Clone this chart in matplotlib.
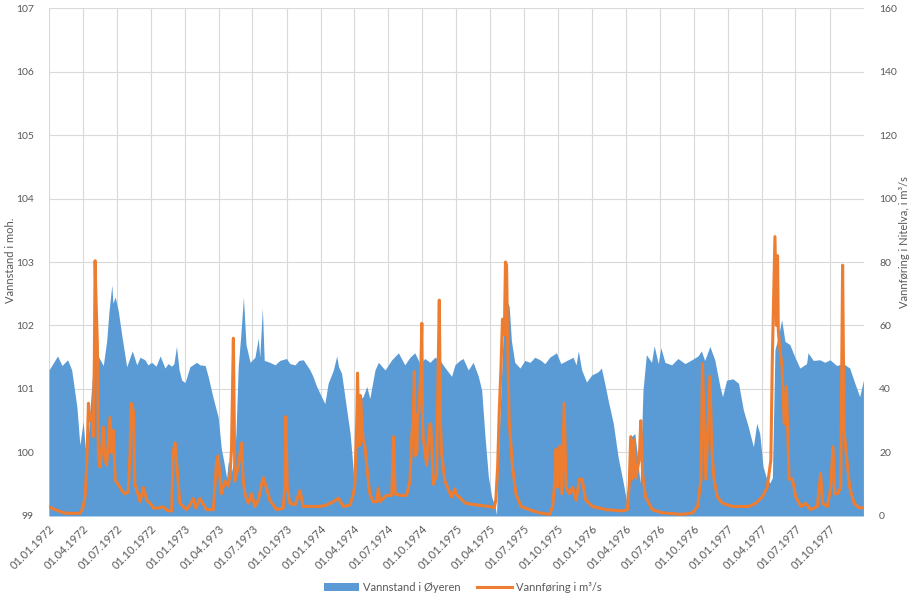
import pandas as pd
import numpy as np
import matplotlib
matplotlib.use("Agg")
import matplotlib.pyplot as plt

plt.rcParams['font.family'] = ['Lato', 'DejaVu Sans']

start = pd.Timestamp('1972-01-01')

# Vannstand i Øyeren (moh.), days counted from 01.01.1972
level_days = [0, 23, 35, 50, 61, 75, 83, 92, 97, 102, 113, 121, 129, 133, 146, 155, 161, 169, 172, 178,
              186, 197, 209, 215, 224, 236, 245, 258, 266, 276, 288, 299, 312, 320, 330, 336, 343, 350,
              357, 366, 379, 397, 406, 420, 428, 442, 455, 464, 469, 478, 482, 491, 498, 503, 509, 516,
              523, 530, 541, 554, 563, 567, 574, 579, 594, 608, 621, 639, 648, 662, 672, 684, 702, 710,
              720, 733, 742, 751, 765, 774, 779, 787, 801, 810, 816, 821, 824, 833, 839, 845, 855, 863,
              877, 886, 904, 922, 940, 957, 971, 984, 998, 1011, 1025, 1038, 1052, 1060, 1070, 1083,
              1092, 1105, 1114, 1128, 1141, 1155, 1164, 1173, 1182, 1191, 1200, 1204, 1207, 1213, 1222,
              1231, 1238, 1244, 1253, 1267, 1280, 1294, 1307, 1321, 1334, 1347, 1365, 1377, 1393, 1410,
              1418, 1424, 1433, 1446, 1460, 1477, 1486, 1495, 1504, 1518, 1531, 1545, 1554, 1558, 1567,
              1576, 1582, 1590, 1598, 1607, 1621, 1628, 1639, 1646, 1657, 1675, 1692, 1711, 1729, 1746,
              1755, 1764, 1778, 1791, 1805, 1812, 1823, 1840, 1855, 1868, 1881, 1895, 1904, 1912, 1921,
              1930, 1939, 1946, 1953, 1962, 1971, 1980, 1993, 2006, 2020, 2038, 2042, 2056, 2074, 2087,
              2101, 2119, 2137, 2154, 2168, 2181, 2191]
level = [101.30, 101.52, 101.37, 101.46, 101.30, 100.72, 100.12, 100.49, 100.10, 99.93, 100.9, 101.5,
         101.72, 101.51, 101.37, 101.75, 102.2, 102.64, 102.35, 102.45, 102.24, 101.8, 101.35, 101.45,
         101.6, 101.38, 101.5, 101.46, 101.38, 101.42, 101.36, 101.52, 101.33, 101.4, 101.36, 101.4,
         101.67, 101.3, 101.14, 101.1, 101.35, 101.42, 101.38, 101.37, 101.2, 100.85, 100.56, 100.04,
         99.9, 99.6, 99.85, 99.7, 99.9, 100.3, 101.35, 101.85, 102.45, 101.7, 101.42, 101.5, 101.8,
         101.5, 102.27, 101.45, 101.42, 101.38, 101.45, 101.48, 101.4, 101.38, 101.45, 101.46, 101.3,
         101.2, 101.04, 100.88, 100.77, 101.09, 101.3, 101.52, 101.35, 101.25, 100.67, 100.3, 99.9,
         99.52, 99.9, 100.5, 100.85, 100.88, 101.04, 100.85, 101.3, 101.42, 101.3, 101.46, 101.57,
         101.38, 101.5, 101.57, 101.4, 101.48, 101.42, 101.5, 101.45, 101.38, 101.3, 101.2, 101.38,
         101.45, 101.48, 101.3, 101.42, 101.2, 100.98, 100.25, 99.62, 99.3, 99.15, 99.02, 99.6, 100.56,
         101.88, 102.4, 102.3, 101.76, 101.42, 101.33, 101.45, 101.42, 101.5, 101.46, 101.4, 101.5,
         101.57, 101.4, 101.45, 101.5, 101.38, 101.6, 101.3, 101.11, 101.22, 101.27, 101.33, 101.09,
         100.83, 100.46, 99.93, 99.52, 99.23, 99.4, 100.25, 100.3, 100.0, 99.52, 100.98, 101.54,
         101.42, 101.68, 101.4, 101.65, 101.42, 101.38, 101.48, 101.4, 101.46, 101.52, 101.6, 101.45,
         101.67, 101.46, 101.04, 100.88, 101.14, 101.16, 101.09, 100.67, 100.41, 100.09, 100.46,
         100.3, 99.78, 99.6, 99.52, 99.6, 101.62, 101.82, 102.09, 101.75, 101.7, 101.51, 101.33,
         101.4, 101.57, 101.45, 101.46, 101.42, 101.46, 101.37, 101.4, 101.33, 101.09, 100.88, 101.14]

# Vannføring i Nitelva (m3/s), days counted from 01.01.1972
flow_days = [0, 16, 35, 48, 83, 91, 97, 101, 103, 106, 110, 115, 119, 122, 124, 126, 130, 133, 137,
             141, 146, 151, 155, 159, 164, 168, 173, 178, 186, 196, 204, 213, 218, 221, 227, 231, 239,
             245, 254, 263, 272, 281, 293, 307, 317, 330, 334, 339, 344, 352, 370, 379, 388, 395, 406,
             424, 442, 451, 455, 460, 464, 473, 482, 487, 491, 496, 500, 509, 518, 522, 527, 536, 545,
             554, 563, 572, 576, 585, 594, 612, 630, 635, 637, 641, 648, 662, 675, 684, 711, 729, 747,
             765, 778, 792, 810, 819, 823, 828, 830, 834, 837, 839, 842, 845, 850, 855, 863, 872, 881,
             886, 890, 908, 922, 927, 931, 944, 962, 971, 976, 980, 983, 985, 990, 991, 995, 1000, 1003,
             1005, 1007, 1016, 1019, 1025, 1027, 1034, 1043, 1046, 1050, 1053, 1056, 1065, 1074, 1083,
             1092, 1094, 1121, 1148, 1184, 1198, 1202, 1207, 1211, 1216, 1220, 1225, 1228, 1231, 1234,
             1238, 1247, 1256, 1270, 1292, 1319, 1346, 1355, 1360, 1364, 1368, 1374, 1380, 1386, 1391,
             1400, 1409, 1418, 1427, 1434, 1444, 1462, 1498, 1543, 1556, 1561, 1565, 1570, 1574, 1579,
             1588, 1592, 1597, 1605, 1623, 1650, 1704, 1731, 1745, 1754, 1758, 1763, 1767, 1774, 1778,
             1783, 1789, 1798, 1812, 1839, 1883, 1901, 1919, 1932, 1942, 1946, 1953, 1957, 1960, 1962,
             1965, 1972, 1978, 1984, 1991, 2000, 2009, 2023, 2036, 2049, 2067, 2076, 2081, 2094, 2103,
             2109, 2114, 2121, 2130, 2135, 2139, 2144, 2154, 2166, 2179, 2191]
flow = [2.9, 2.0, 1.2, 0.84, 0.84, 2.5, 6, 15, 21.8, 35.5, 30, 32, 25, 50, 80.4, 70, 54.5, 18.7, 15.5,
        20, 28, 18, 16, 22, 31, 20, 27, 11.3, 10, 8, 7, 7.5, 20, 35.5, 33, 10, 7, 4.5, 9, 5, 4, 2.5, 2.5,
        2.9, 1.8, 1.5, 20, 23, 16, 4, 2, 3.5, 5.5, 2.5, 5.5, 2, 2, 17.6, 18.9, 12, 7, 11, 9.5, 13, 21, 56,
        11, 15.5, 23, 12, 7, 4, 7, 3, 5, 10, 12, 9, 5, 2, 2.5, 10, 31.3, 9, 4, 3.5, 8, 3, 3, 3, 3.5, 4.5,
        5.6, 3, 3.5, 7, 10.3, 30, 45, 22, 38, 36.5, 29, 24, 22, 15.5, 7, 4.5, 4.5, 8.7, 4.5, 6.5, 6.5,
        25, 7, 6.5, 6.5, 11, 25, 32, 45.5, 19, 20, 32, 32.5, 45, 60.7, 29, 24.5, 16, 22, 29, 29, 10, 13,
        40, 68, 30, 20, 11, 8.5, 6, 8.5, 7, 4, 3.5, 3, 2.6, 5, 15.5, 32, 47, 62, 57, 80, 79, 53, 30, 15.5,
        7, 3, 2, 1, 0.5, 3, 10, 21, 9, 22, 7, 35.5, 9, 7, 9, 5, 11.6, 11.6, 5, 3, 2, 1.6, 2, 10, 25, 11.6,
        24, 12, 18, 30, 13, 6, 2, 1, 0.5, 1, 3, 11.6, 48, 27, 11.6, 32, 44, 21.5, 11.6, 6, 4, 3, 3, 4, 6,
        9, 17.6, 50, 88, 60, 82, 58.6, 54, 47, 29, 40.7, 11.6, 11.6, 6, 3, 4, 2, 3, 13.4, 4, 3, 9, 21.8,
        7, 7, 9, 79, 27, 20.5, 9, 4, 2.6, 2.6]

level_dates = start + pd.to_timedelta(level_days, unit='D')
flow_dates = start + pd.to_timedelta(flow_days, unit='D')

blue = '#5B9BD5'
orange = '#ED7D31'
grid_c = '#D9D9D9'
text_c = '#595959'

fig = plt.figure(figsize=(9.16, 6.03), dpi=100)
ax = fig.add_axes([0.0535, 0.1443, 0.8895, 0.8424])
ax2 = ax.twinx()

ax.fill_between(level_dates, level, 99, color=blue, linewidth=0, label='Vannstand i Øyeren', zorder=2)
ax2.plot(flow_dates, flow, color=orange, linewidth=2.2, label='Vannføring i m³/s', solid_joinstyle='round')

ax.set_ylim(99, 107)
ax.set_yticks(range(99, 108))
ax2.set_ylim(0, 160)
ax2.set_yticks(range(0, 161, 20))
ax.set_xlim(start, pd.Timestamp('1978-01-01'))

ticks = [t for t in pd.date_range('1972-01-01', '1977-10-01', freq='QS')]
ax.set_xticks(ticks)
ax.set_xticklabels([t.strftime('%d.%m.%Y') for t in ticks], rotation=45, ha='right', va='top',
                   rotation_mode='anchor')

ax.grid(True, color=grid_c, linewidth=0.8, zorder=0)
ax.set_axisbelow(True)
for a in (ax, ax2):
    for s in a.spines.values():
        s.set_visible(False)
    a.tick_params(length=0, colors=text_c, labelsize=7.5)
ax.tick_params(axis='x', labelsize=8, pad=5)
ax.tick_params(axis='y', pad=11)
ax2.tick_params(axis='y', pad=11)

ax.set_ylabel('Vannstand i moh.', color=text_c, fontsize=8)
ax.yaxis.set_label_coords(-0.041, 0.504)
ax2.set_ylabel('Vannføring i Nitelva, i m³/s', color=text_c, fontsize=8)
ax2.yaxis.set_label_coords(1.043, 0.54)

h1, l1 = ax.get_legend_handles_labels()
h2, l2 = ax2.get_legend_handles_labels()
fig.legend(h1 + h2, l1 + l2, loc='lower center', bbox_to_anchor=(0.505, 0.0), ncol=2, frameon=False,
           fontsize=8, labelcolor=text_c, handlelength=3.2, columnspacing=1.5, handletextpad=0.3)

fig.savefig('out.png', dpi=100)
